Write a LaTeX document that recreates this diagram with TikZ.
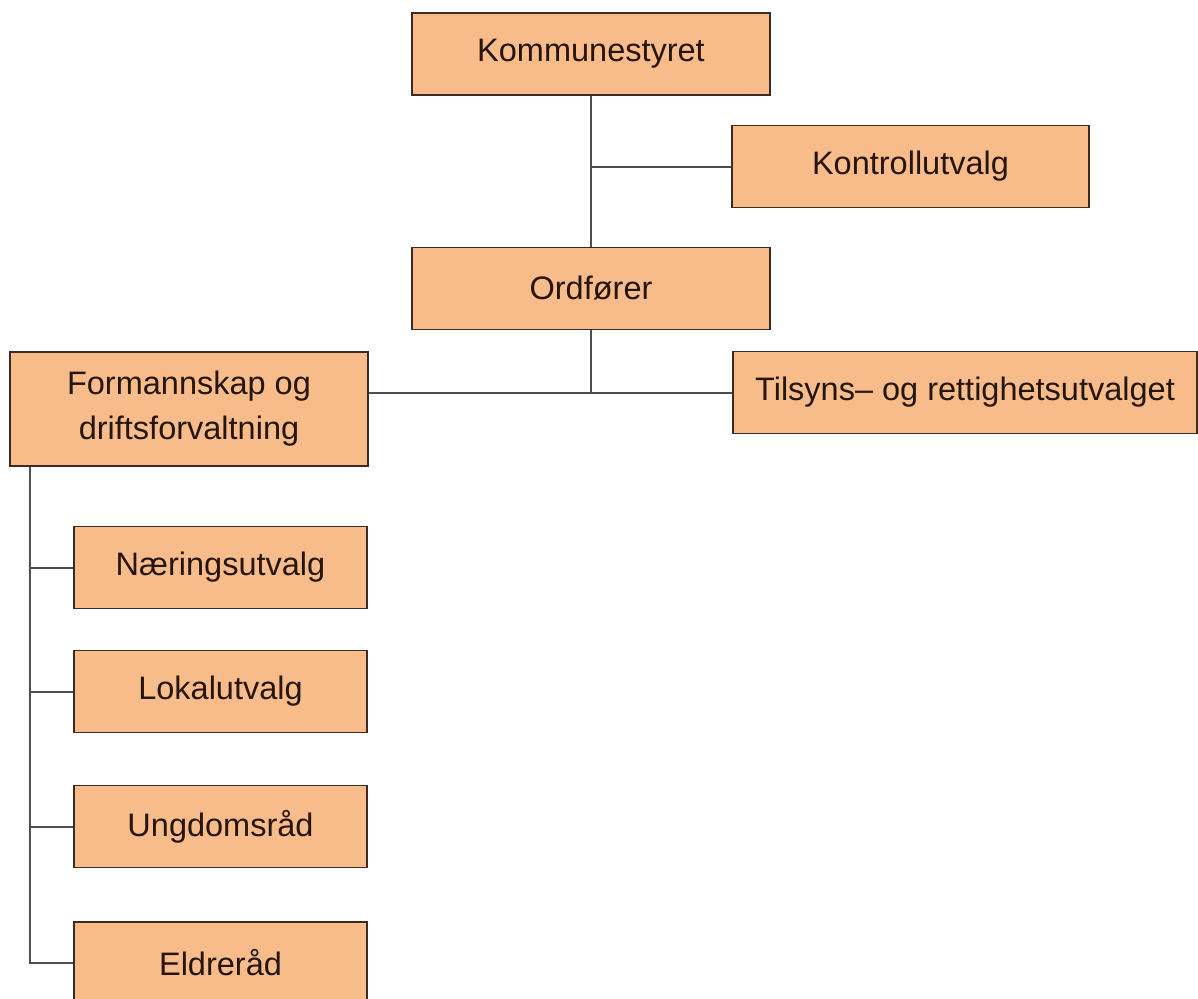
\documentclass[tikz,border=0pt]{standalone}
\usepackage{fontspec}
\setmainfont{Liberation Sans}
\usetikzlibrary{positioning}
\definecolor{boxfill}{HTML}{F8BC8A}
\definecolor{boxline}{HTML}{3B2B22}
\definecolor{linkgray}{HTML}{4E4E4E}
\definecolor{textdark}{HTML}{24150E}
\tikzset{
  unit/.style={draw=boxline, fill=boxfill, line width=1.8pt, text=textdark,
    minimum width=293pt, minimum height=82pt, inner sep=0pt, align=center,
    font=\fontsize{32.5}{45}\selectfont},
  link/.style={draw=linkgray, line width=2pt}
}
\begin{document}
\begin{tikzpicture}[x=1pt,y=-1pt]
\useasboundingbox (0,0) rectangle (1198,998);
\node[unit, minimum width=358pt] (styre) at (591,54) {Kommunestyret};
\node[unit, minimum width=357pt] (kontroll) at (910.5,166.5) {Kontrollutvalg};
\node[unit, minimum width=358pt] (ordf) at (591,288.5) {Ordfører};
\node[unit, minimum width=358pt, minimum height=114pt] (forman) at (189,409) {Formannskap og\\driftsforvaltning};
\node[unit, minimum width=464pt] (tilsyn) at (965,392.5) {Tilsyns– og rettighetsutvalget};
\node[unit] (naering) at (220.5,567.5) {Næringsutvalg};
\node[unit] (lokal) at (220.5,691.5) {Lokalutvalg};
\node[unit] (ungdom) at (220.5,826.5) {Ungdomsråd};
\node[unit] (eldre) at (220.5,963) {Eldreråd};

\coordinate (k1) at (styre.south |- kontroll.west);
\coordinate (o1) at (ordf.south |- tilsyn.west);
\coordinate (f1) at (forman.east |- tilsyn.west);
\coordinate (s0) at ([xshift=21pt]forman.south west);

\draw[link] (styre) -- (ordf);
\draw[link] (k1) -- (kontroll.west);
\draw[link] (ordf) -- (o1);
\draw[link] (f1) -- (tilsyn.west);
\draw[link] (s0) -- (s0 |- eldre.west) -- (eldre.west);
\foreach \sub in {naering,lokal,ungdom}
  \draw[link] (s0 |- \sub.west) -- (\sub.west);
\end{tikzpicture}
\end{document}
